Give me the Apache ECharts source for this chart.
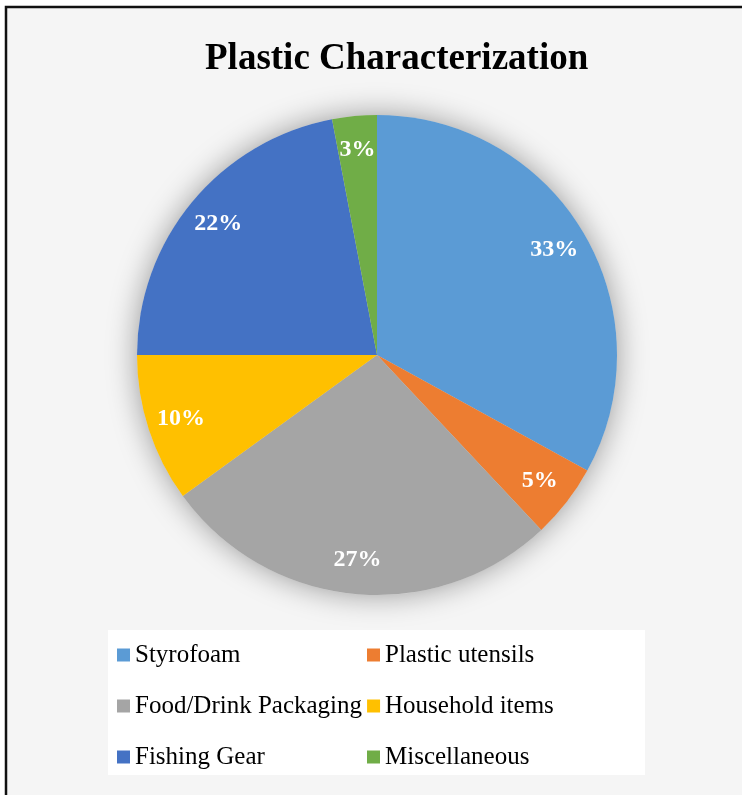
<!DOCTYPE html>
<html>
<head>
<meta charset="utf-8">
<title>Plastic Characterization</title>
<script src="https://cdn.jsdelivr.net/npm/echarts@6/dist/echarts.min.js"></script>
<style>
  html, body { margin: 0; padding: 0; background: #fff; }
  #chart { width: 742px; height: 795px; }
</style>
</head>
<body>
<div id="chart"></div>
<script>
// Share of plastic items by category (percent)
const categories = ['Styrofoam', 'Plastic utensils', 'Food/Drink Packaging', 'Household items', 'Fishing Gear', 'Miscellaneous'];
const shares = [33, 5, 27, 10, 22, 3];
const sliceColors = ['#5B9BD5', '#ED7D31', '#A5A5A5', '#FFC000', '#4472C4', '#70AD47'];

const serif = '"Liberation Serif", "Times New Roman", serif';
const pieCenter = [377, 355];
const pieRadius = 240;

const sliceData = categories.map((name, i) => ({
  name,
  value: shares[i],
  itemStyle: { color: sliceColors[i] }
}));

const chart = echarts.init(document.getElementById('chart'), null, { renderer: 'canvas' });

chart.setOption({
  backgroundColor: '#ffffff',
  animation: false,
  graphic: [
    {
      type: 'rect',
      z: -10,
      shape: { x: 6, y: 7, width: 800, height: 850 },
      style: { fill: '#f5f5f5', stroke: '#111', lineWidth: 2.5 }
    },
    {
      type: 'rect',
      z: -9,
      shape: { x: 108, y: 630, width: 537, height: 145 },
      style: { fill: '#ffffff' }
    }
  ],
  title: {
    text: 'Plastic Characterization',
    left: 205,
    top: 41,
    padding: 0,
    textStyle: { fontFamily: serif, fontSize: 37, fontWeight: 'bold', color: '#000' }
  },
  legend: {
    data: categories,
    orient: 'horizontal',
    left: 117,
    top: 632,
    width: 520,
    padding: 0,
    itemWidth: 13,
    itemHeight: 13,
    itemGap: 5,
    icon: 'rect',
    selectedMode: false,
    formatter: '{n|{name}}',
    textStyle: {
      rich: {
        n: { width: 227, height: 46, lineHeight: 46, fontSize: 25, fontFamily: serif, color: '#000' }
      }
    }
  },
  series: [
    {
      // soft halo behind the pie
      type: 'pie',
      center: pieCenter,
      radius: pieRadius,
      silent: true,
      z: 1,
      label: { show: false },
      labelLine: { show: false },
      data: [{ value: 1, name: 'halo' }],
      itemStyle: { color: '#d8d8d8', shadowBlur: 30, shadowColor: 'rgba(0,0,0,0.38)' }
    },
    {
      type: 'pie',
      center: pieCenter,
      radius: pieRadius,
      startAngle: 90,
      clockwise: true,
      z: 2,
      label: { show: false },
      labelLine: { show: false },
      emphasis: { disabled: true },
      data: sliceData
    },
    {
      // percentage labels placed in the outer band of each slice
      type: 'pie',
      center: pieCenter,
      radius: [166, pieRadius],
      startAngle: 90,
      clockwise: true,
      silent: true,
      z: 3,
      legendHoverLink: false,
      itemStyle: { color: 'rgba(0,0,0,0)' },
      label: {
        show: true,
        position: 'inside',
        formatter: '{c}%',
        color: '#fff',
        fontFamily: serif,
        fontWeight: 'bold',
        fontSize: 24
      },
      labelLine: { show: false },
      data: categories.map((name, i) => ({ name, value: shares[i] }))
    }
  ]
});
</script>
</body>
</html>
